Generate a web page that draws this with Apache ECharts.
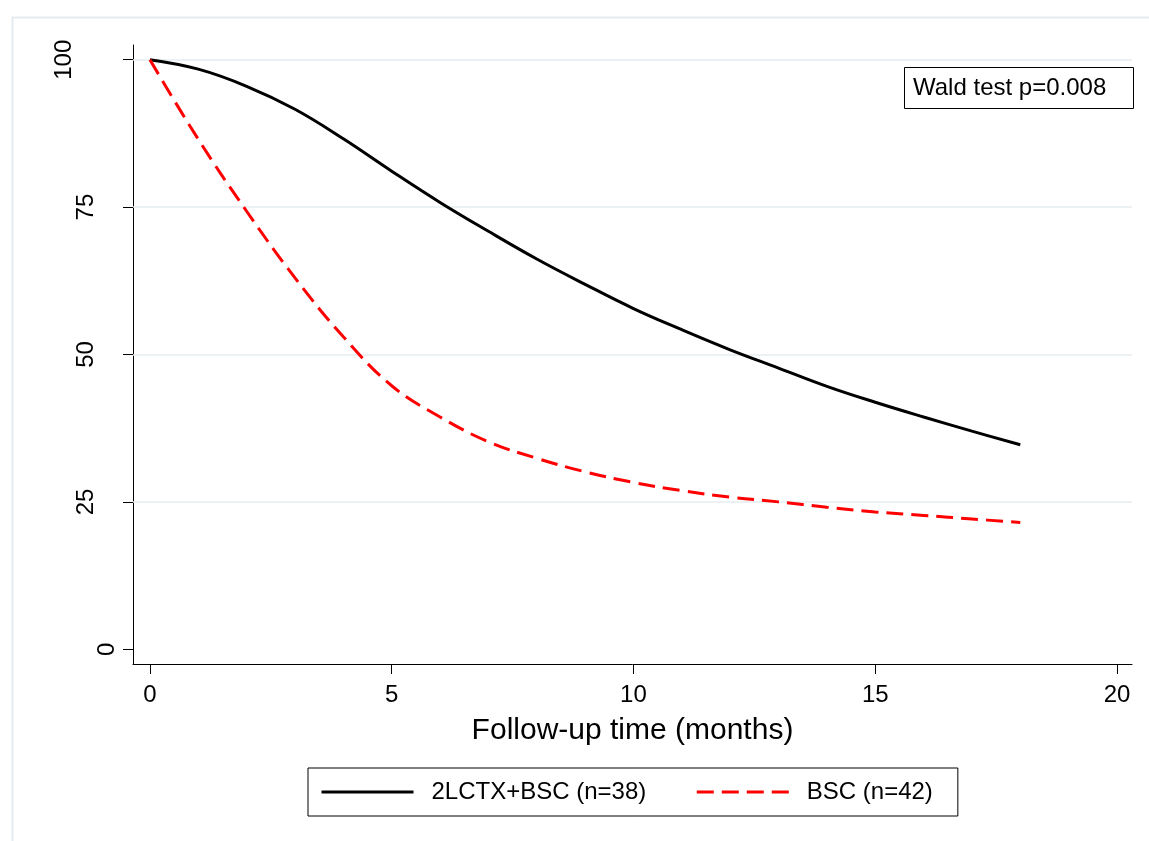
<!DOCTYPE html>
<html>
<head>
<meta charset="utf-8">
<title>Survival by treatment</title>
<script src="https://cdn.jsdelivr.net/npm/echarts@6/dist/echarts.min.js"></script>
<style>
  html, body { margin: 0; padding: 0; background: #fff; }
  #chart { width: 1149px; height: 841px; }
</style>
</head>
<body>
<div id="chart"></div>
<script>
// follow-up months and estimated survival (%) for the two arms
var months = [0, 1, 2, 3, 4, 5, 6, 7, 8, 9, 10, 11, 12, 13, 14, 15, 16, 17, 18];
var survCtx = [100, 98.4, 95.5, 91.6, 86.6, 81.1, 75.8, 70.9, 66.2, 61.9, 57.8, 54.2, 50.8, 47.7, 44.6, 41.9, 39.4, 37.0, 34.7];
var survBsc = [100, 86.5, 74.3, 63.0, 53.0, 44.7, 39.4, 35.2, 32.4, 30.1, 28.3, 26.9, 25.8, 25.0, 24.1, 23.3, 22.7, 22.1, 21.5];
var seriesNames = ['2LCTX+BSC (n=38)', 'BSC (n=42)'];
var xTicks = [0, 5, 10, 15, 20];
var yTicks = [0, 25, 50, 75, 100];
var gridValues = [25, 50, 75, 100];
var noteText = 'Wald test p=0.008';

var FONT = '"Liberation Sans", Arial, sans-serif';

function pairs(xs, ys) {
  return xs.map(function (x, i) { return [x, ys[i]]; });
}

var chart = echarts.init(document.getElementById('chart'));

chart.setOption({
  backgroundColor: '#fff',
  animation: false,
  textStyle: { fontFamily: FONT },
  graphic: [{
    // light outer frame of the graph region
    type: 'rect',
    left: 10, top: 15,
    shape: { width: 1200, height: 900 },
    style: { fill: 'none', stroke: '#e4ebef', lineWidth: 2 },
    silent: true
  }],
  title: {
    text: noteText,
    left: 904, top: 67,
    padding: [9, 28, 9, 9],
    borderColor: '#000', borderWidth: 1,
    textStyle: { fontFamily: FONT, fontSize: 24, fontWeight: 'normal', color: '#000', lineHeight: 24 }
  },
  legend: {
    left: 308, top: 768,
    orient: 'horizontal',
    padding: [12, 25, 12, 12],
    itemWidth: 92, itemHeight: 22,
    itemGap: 49,
    borderColor: '#000', borderWidth: 1,
    lineStyle: { width: 3 },
    itemStyle: { opacity: 0 },
    textStyle: { fontFamily: FONT, fontSize: 24, color: '#000', padding: [0, 0, 0, 13] },
    data: seriesNames
  },
  grid: { left: 133, right: 17, top: 45, bottom: 177 },
  xAxis: {
    type: 'value',
    min: -0.35, max: 20.31,
    name: 'Follow-up time (months)',
    nameLocation: 'middle',
    nameGap: 52,
    nameTextStyle: { fontFamily: FONT, fontSize: 30, color: '#000' },
    axisLine: { show: true, onZero: false, lineStyle: { color: '#000', width: 1 } },
    axisTick: { show: true, length: 10, customValues: xTicks, lineStyle: { color: '#000' } },
    axisLabel: { customValues: xTicks, margin: 19, fontSize: 24, color: '#000', fontFamily: FONT },
    splitLine: { show: false }
  },
  yAxis: {
    type: 'value',
    min: -2.5, max: 102.5,
    axisLine: { show: true, onZero: false, lineStyle: { color: '#000', width: 1 } },
    axisTick: { show: true, length: 10, customValues: yTicks, lineStyle: { color: '#000' } },
    axisLabel: {
      customValues: yTicks,
      rotate: 90,
      margin: 14,
      formatter: function (v) { return '{l' + String(v).length + '|' + v + '}'; },
      rich: {
        l1: { fontSize: 24, color: '#000', fontFamily: FONT, padding: [0, 0, 0, 0] },
        l2: { fontSize: 24, color: '#000', fontFamily: FONT, padding: [0, 0, 21, 0] },
        l3: { fontSize: 24, color: '#000', fontFamily: FONT, padding: [0, 0, 43, 0] }
      }
    },
    splitLine: { show: false }
  },
  series: [
    {
      name: seriesNames[0],
      type: 'line',
      z: 3,
      symbol: 'none',
      smooth: 0.4,
      lineStyle: { color: '#000', width: 3 },
      itemStyle: { color: '#000' },
      data: pairs(months, survCtx),
      markLine: {
        silent: true,
        z: 1,
        symbol: 'none',
        label: { show: false },
        lineStyle: { color: '#e6edf1', width: 1.5, type: 'solid' },
        data: gridValues.map(function (v) { return { yAxis: v }; })
      }
    },
    {
      name: seriesNames[1],
      type: 'line',
      z: 3,
      symbol: 'none',
      smooth: 0.4,
      lineStyle: { color: '#ff0000', width: 3, type: [17, 8] },
      itemStyle: { color: '#ff0000' },
      data: pairs(months, survBsc)
    }
  ]
});
</script>
</body>
</html>
